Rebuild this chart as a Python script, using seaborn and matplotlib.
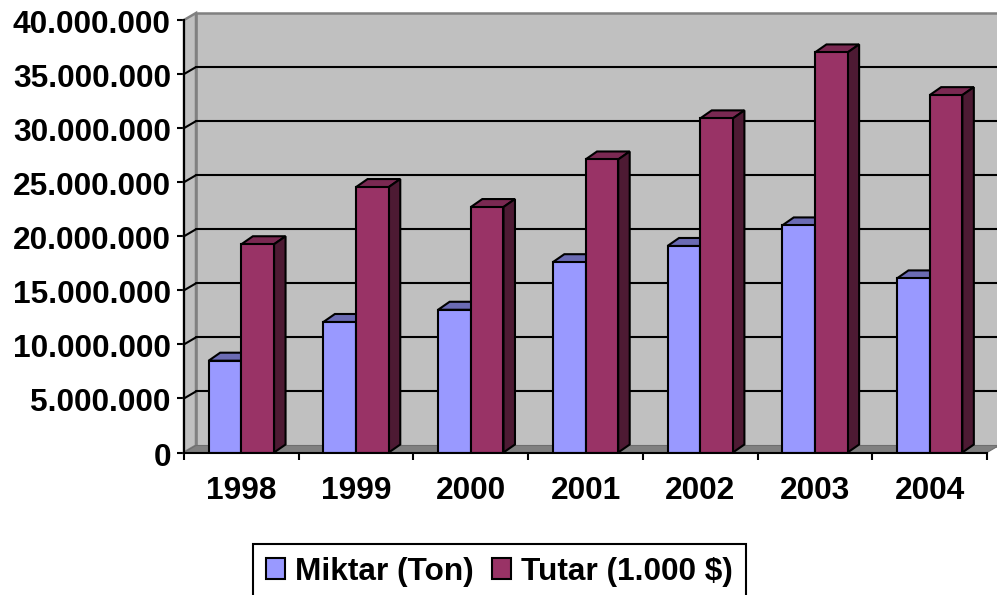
"""Miktar / Tutar 1998-2004 column chart with an Excel style 3D look."""
import matplotlib
matplotlib.use("Agg")
import matplotlib.pyplot as plt
import numpy as np
import pandas as pd
import seaborn as sns
from matplotlib.patches import Polygon
from matplotlib.transforms import IdentityTransform, ScaledTranslation, offset_copy

years = ["1998", "1999", "2000", "2001", "2002", "2003", "2004"]
miktar = [8490000, 12070000, 13200000, 17600000, 19100000, 21000000, 16100000]
tutar = [19260000, 24550000, 22700000, 27100000, 30900000, 37000000, 33050000]
series_names = ["Miktar (Ton)", "Tutar (1.000 $)"]
y_ticks = [0, 5000000, 10000000, 15000000, 20000000, 25000000, 30000000, 35000000, 40000000]

colors = ["#9999FF", "#993366"]
top_colors = ["#6B6BB3", "#7A2952"]
side_colors = ["#4D4D80", "#4D1A33"]

WALL_DX, WALL_DY = 12, 7
BAR_DX, BAR_DY = 11.5, 8
W, H = 997, 595

sns.set_theme(style="white")
plt.rcParams["font.family"] = ["Liberation Sans", "DejaVu Sans"]
plt.rcParams["font.weight"] = "bold"

df = pd.DataFrame({
    "Yil": years * 2,
    "Deger": miktar + tutar,
    "Seri": [series_names[0]] * len(years) + [series_names[1]] * len(years),
})

fig = plt.figure(figsize=(W / 100, H / 100), dpi=100, facecolor="white")
ax = fig.add_axes([184 / W, 1 - 452.5 / H, (987 - 184) / W, (452.5 - 20) / H])
ax.patch.set_alpha(0)

sns.barplot(data=df, x="Yil", y="Deger", hue="Seri", palette=colors, width=0.57, gap=0,
            edgecolor="black", linewidth=1.5, saturation=1, ax=ax)

ax.set_xlim(-0.5, len(years) - 0.5)
ax.set_ylim(0, 40000000)
ax.set_xlabel("")
ax.set_ylabel("")


def to_px(x, y, dx=0, dy=0):
    px = ax.transData.transform((x, y))
    return (px[0] + dx, px[1] + dy)


def add_poly(points, zorder, **kwargs):
    ax.add_patch(Polygon(points, closed=True, transform=IdentityTransform(),
                         clip_on=False, zorder=zorder, **kwargs))


# --- Walls and floor ---
x0, x1 = ax.get_xlim()
y_top = y_ticks[-1]
add_poly([to_px(x0, 0, WALL_DX, WALL_DY), to_px(x1, 0, WALL_DX, WALL_DY),
          to_px(x1, y_top, WALL_DX, WALL_DY), to_px(x0, y_top, WALL_DX, WALL_DY)],
         0.5, facecolor="#C0C0C0", edgecolor="#808080", linewidth=1.8)
add_poly([to_px(x0, 0), to_px(x0, 0, WALL_DX, WALL_DY),
          to_px(x0, y_top, WALL_DX, WALL_DY), to_px(x0, y_top)],
         0.6, facecolor="#C0C0C0", edgecolor="#808080", linewidth=1.8)
add_poly([to_px(x0, 0), to_px(x1, 0), to_px(x1, 0, WALL_DX, WALL_DY), to_px(x0, 0, WALL_DX, WALL_DY)],
         0.7, facecolor="#808080", edgecolor="#6E6E6E", linewidth=0.8)

# --- Gridlines run along the back wall and step down the side wall ---
back = offset_copy(ax.transData, fig, x=WALL_DX, y=WALL_DY, units="dots")
for value in y_ticks[1:-1]:
    ax.plot([x0, x1], [value, value], transform=back, color="black", linewidth=1.5,
            clip_on=False, zorder=1)
    p0, p1 = to_px(x0, value), to_px(x0, value, WALL_DX, WALL_DY)
    ax.plot([p0[0], p1[0]], [p0[1], p1[1]], transform=IdentityTransform(), color="black",
            linewidth=1.5, clip_on=False, zorder=1)

# --- Depth faces for each bar ---
for i, container in enumerate(ax.containers):
    for bar in container:
        bar.set_zorder(3)
        left, right = bar.get_x(), bar.get_x() + bar.get_width()
        top = bar.get_height()
        add_poly([to_px(left, top), to_px(right, top),
                  to_px(right, top, BAR_DX, BAR_DY), to_px(left, top, BAR_DX, BAR_DY)],
                 2, facecolor=top_colors[i], edgecolor="black", linewidth=1.5)
        add_poly([to_px(right, 0), to_px(right, 0, BAR_DX, BAR_DY),
                  to_px(right, top, BAR_DX, BAR_DY), to_px(right, top)],
                 2, facecolor=side_colors[i], edgecolor="black", linewidth=1.5)

# --- Axes ---
sns.despine(ax=ax, top=True, right=True)
for name in ["left", "bottom"]:
    ax.spines[name].set_color("black")
    ax.spines[name].set_linewidth(1.5)
    ax.spines[name].set_zorder(4)

ax.set_yticks(y_ticks, labels=[f"{v:,}".replace(",", ".") for v in y_ticks])
ax.set_xticks(np.arange(len(years) + 1) - 0.5, labels=[])
ax.set_xticks(np.arange(len(years)), labels=years, minor=True)
ax.tick_params(axis="both", which="major", length=5, width=1.5, color="black", left=True, bottom=True)
ax.tick_params(axis="x", which="minor", length=0, bottom=False, pad=17)
ax.tick_params(axis="y", which="major", pad=4.5)

# the reference labels sit a little under their ticks
nudge = ScaledTranslation(0, -1.5 / 100, fig.dpi_scale_trans)
for label in ax.get_yticklabels():
    label.set_fontsize(22.8)
    label.set_fontweight("bold")
    label.set_color("black")
    label.set_transform(label.get_transform() + nudge)
for label in ax.get_xticklabels(minor=True):
    label.set_fontsize(22.8)
    label.set_fontweight("bold")
    label.set_color("black")

# --- Legend ---
handles, labels = ax.get_legend_handles_labels()
ax.get_legend().remove()
legend = fig.legend(handles, labels, loc="upper left", bbox_to_anchor=(253 / W, 1 - 544 / H), ncol=2,
                    fontsize=22.8, frameon=True, fancybox=False, framealpha=1, edgecolor="black",
                    handlelength=0.62, handleheight=0.62, handletextpad=0.32, columnspacing=0.55,
                    borderpad=0.4, borderaxespad=0)
legend.get_frame().set_linewidth(1.5)
for text in legend.get_texts():
    text.set_fontweight("bold")
    text.set_color("black")

fig.savefig("out.png", dpi=100)
plt.close(fig)
